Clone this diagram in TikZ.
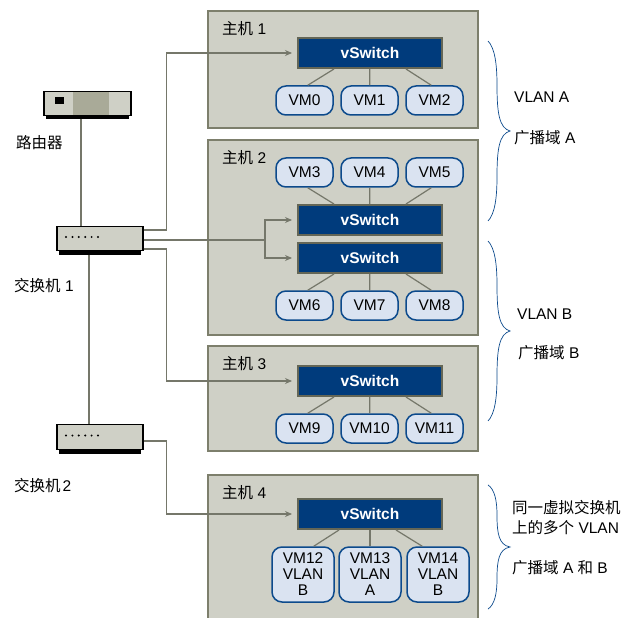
\documentclass[tikz,border=0pt]{standalone}
\usepackage{fontspec}
\usetikzlibrary{arrows.meta}
\setmainfont{Liberation Sans}
\newfontfamily\cjk{Noto Sans CJK SC}
\definecolor{hostgray}{HTML}{CFD0C6}
\definecolor{hostedge}{HTML}{7D7F6C}
\definecolor{linkgray}{HTML}{75776A}
\definecolor{switchblue}{HTML}{003B7C}
\definecolor{vmblue}{HTML}{DAE3F1}
\definecolor{vmedge}{HTML}{0C4A8C}
\definecolor{routermid}{HTML}{A9AA98}
\tikzset{every node/.style={font=\fontsize{15.5}{16}\selectfont, inner sep=0pt}}
\tikzset{host/.style={draw=hostedge, fill=hostgray, line width=2pt, minimum width=270pt}}
\tikzset{vswitch/.style={draw=hostedge!80!black, fill=switchblue, line width=2pt, text=white, minimum width=144pt, minimum height=30pt, font=\fontsize{15.5}{16}\selectfont\bfseries}}
\tikzset{vm/.style={draw=vmedge, fill=vmblue, line width=1.5pt, rounded corners=10pt, minimum width=57pt, minimum height=29pt}}
\tikzset{vmtall/.style={vm, minimum width=62pt, minimum height=55pt, align=center}}
\tikzset{device/.style={draw=black, fill=hostgray, line width=1.3pt, minimum width=86pt, minimum height=24pt}}
\tikzset{link/.style={draw=linkgray, line width=1.2pt}}
\tikzset{feed/.style={link, -{Stealth[length=7pt,width=6pt]}, shorten >=5pt}}
\tikzset{label/.style={anchor=west}}
\tikzset{bracket/.style={draw=vmedge, line width=0.7pt}}
\tikzset{pics/vlanbrace/.style={code={
	\draw[bracket] (-22,-90) .. controls (-15,-83) and (-13,-66) .. (-13,-46) .. controls (-13,-19) and (-11,-3) .. (0,0) .. controls (-11,3) and (-13,19) .. (-13,46) .. controls (-13,66) and (-15,83) .. (-22,90);
}}}

\begin{document}
\begin{tikzpicture}[x=1pt, y=-1pt]
	\useasboundingbox (0,0) rectangle (625,618);
	\clip (0,0) rectangle (625,618);

	\node[host, minimum height=117pt] (hostone) at (343,69.5) {};
	\node[host, minimum height=195pt] (hosttwo) at (343,237.5) {};
	\node[host, minimum height=105pt] (hostthree) at (343,398) {};
	\node[host, minimum height=155pt] (hostfour) at (343,552.5) {};

	\node[label] (hostonetext) at (222,29) {{\cjk 主机} 1};
	\node[label] (hosttwotext) at (222,158) {{\cjk 主机} 2};
	\node[label] (hostthreetext) at (222,364) {{\cjk 主机} 3};
	\node[label] (hostfourtext) at (222,493) {{\cjk 主机} 4};

	\node[vswitch] (vswone) at (370,53) {vSwitch};
	\node[vswitch] (vswtwo) at (370,220) {vSwitch};
	\node[vswitch] (vswthree) at (370,258) {vSwitch};
	\node[vswitch] (vswfour) at (370,381) {vSwitch};
	\node[vswitch] (vswfive) at (370,514) {vSwitch};

	\node[vm] (vmzero) at (304.5,100.5) {VM0};
	\node[vm] (vmone) at (369.5,100.5) {VM1};
	\node[vm] (vmtwo) at (434.5,100.5) {VM2};
	\node[vm] (vmthree) at (304.5,172.5) {VM3};
	\node[vm] (vmfour) at (369.5,172.5) {VM4};
	\node[vm] (vmfive) at (434.5,172.5) {VM5};
	\node[vm] (vmsix) at (304.5,305.5) {VM6};
	\node[vm] (vmseven) at (369.5,305.5) {VM7};
	\node[vm] (vmeight) at (434.5,305.5) {VM8};
	\node[vm] (vmnine) at (304.5,428.5) {VM9};
	\node[vm] (vmten) at (369.5,428.5) {VM10};
	\node[vm] (vmeleven) at (434.5,428.5) {VM11};
	\node[vmtall] (vmtwelve) at (303,574.5) {VM12\\VLAN\\B};
	\node[vmtall] (vmthirteen) at (370,574.5) {VM13\\VLAN\\A};
	\node[vmtall] (vmfourteen) at (438,574.5) {VM14\\VLAN\\B};

	\draw[link] (vmzero.north east) ++(-26,0) -- ([xshift=-36pt]vswone.south);
	\draw[link] (vmone) -- (vswone);
	\draw[link] (vmtwo.north west) ++(26,0) -- ([xshift=36pt]vswone.south);
	\draw[link] (vmthree.south east) ++(-26,0) -- ([xshift=-36pt]vswtwo.north);
	\draw[link] (vmfour) -- (vswtwo);
	\draw[link] (vmfive.south west) ++(26,0) -- ([xshift=36pt]vswtwo.north);
	\draw[link] (vmsix.north east) ++(-26,0) -- ([xshift=-36pt]vswthree.south);
	\draw[link] (vmseven) -- (vswthree);
	\draw[link] (vmeight.north west) ++(26,0) -- ([xshift=36pt]vswthree.south);
	\draw[link] (vmnine.north east) ++(-26,0) -- ([xshift=-36pt]vswfour.south);
	\draw[link] (vmten) -- (vswfour);
	\draw[link] (vmeleven.north west) ++(26,0) -- ([xshift=36pt]vswfour.south);
	\draw[link] (vmtwelve.north east) ++(-21,0) -- ([xshift=-31pt]vswfive.south);
	\draw[link] (vmthirteen) -- (vswfive);
	\draw[link] (vmfourteen.north west) ++(16,0) -- ([xshift=26pt]vswfive.south);

	\fill[black] (46,112) rectangle (129,119);
	\fill[black] (59,247) rectangle (141,254.5);
	\fill[black] (59,446) rectangle (141,453.5);

	\node[device, minimum width=87pt] (router) at (87.5,103.5) {};
	\fill[routermid] (73,92) rectangle (109,115);
	\fill[black] (55,97) rectangle (64,104);
	\node[device] (swone) at (100,238.5) {};
	\node[device, minimum height=25pt] (swtwo) at (100,437) {};

	\foreach \k in {0,...,5} {
		\fill[black] (66+6.4*\k,237) circle (1.1);
		\fill[black] (66+6.4*\k,435.5) circle (1.1);
	}

	\coordinate (split) at (265,240);
	\draw[link] (81,119) -- (81,226);
	\draw[link] (89,254.5) -- (89,424);
	\draw[feed] ([yshift=8.5pt]swone.east) -- ++(23,0) |- (vswone);
	\draw[link] ([yshift=-1.5pt]swone.east) -- (split);
	\draw[feed] (split) |- (vswtwo);
	\draw[feed] (split) |- (vswthree);
	\draw[feed] ([yshift=-10.5pt]swone.east) -- ++(23,0) |- (vswfour);
	\draw[feed] ([yshift=-4pt]swtwo.east) -- ++(23,0) |- (vswfive);

	\node[label] (routertext) at (16,143) {\cjk 路由器};
	\node[label] (swonetext) at (14,286) {{\cjk 交换机} 1};
	\node[label] (swtwotext) at (14,486) {{\cjk 交换机}\kern2pt 2};

	\pic at (510,131) {vlanbrace};
	\pic at (510,331) {vlanbrace};
	\pic[yscale=0.69] at (510,547) {vlanbrace};

	\node[label] (vlanatext) at (514,97) {VLAN A};
	\node[label] (domatext) at (514,138) {{\cjk 广播域} A};
	\node[label] (vlanbtext) at (517,314) {VLAN B};
	\node[label] (dombtext) at (518,353) {{\cjk 广播域} B};
	\node[label] (multitext) at (512,508) {\cjk 同一虚拟交换机};
	\node[label] (multitexttwo) at (512,528) {{\cjk 上的多个} VLAN};
	\node[label] (domabtext) at (512,568) {{\cjk 广播域} A {\cjk 和} B};
\end{tikzpicture}
\end{document}
